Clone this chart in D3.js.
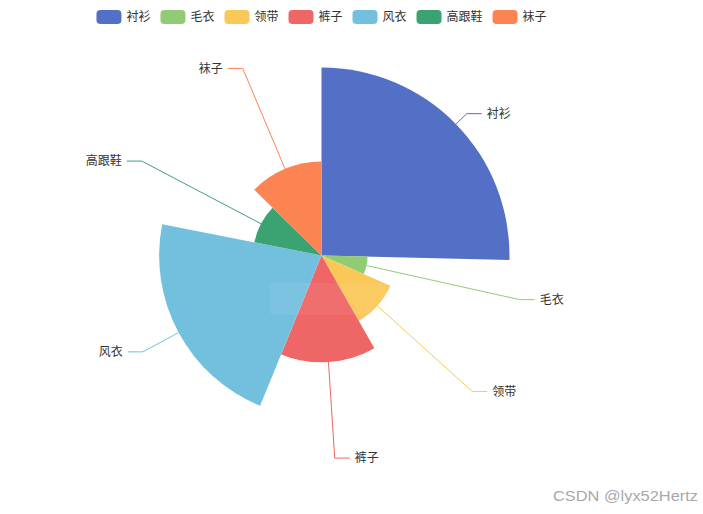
<!DOCTYPE html>
<html><head><meta charset="utf-8">
<script src="https://cdn.jsdelivr.net/npm/d3@7"></script>
<style>body{margin:0;background:#fff}svg{display:block}</style>
</head><body>
<svg id="c" width="703" height="514"></svg>
<script>
const categories = ["衬衫", "毛衣", "领带", "裤子", "风衣", "高跟鞋", "袜子"];
const values = [22, 5.4, 8.8, 12.5, 19, 8, 11];
const colors = ["#5470c6", "#91cc75", "#fac858", "#ee6666", "#73c0de", "#3ba272", "#fc8452"];

const W = 703, H = 514;
const cx = 321.5, cy = 255.5, R = 188;
const font = "'Noto Sans CJK SC', 'Noto Sans', sans-serif";
const svg = d3.select("#c");

const data = categories.map((c, i) => ({ name: c, value: values[i], color: colors[i] }));
const rScale = d3.scaleLinear().domain([0, d3.max(values)]).range([0, R]);
const pie = d3.pie().sort(null).value(d => d.value).startAngle(0).endAngle(2 * Math.PI);
const arcs = pie(data);

const g = svg.append("g").attr("transform", `translate(${cx},${cy})`);
g.selectAll("path.slice").data(arcs).enter().append("path")
  .attr("class", "slice")
  .attr("fill", d => d.data.color)
  .attr("d", d => d3.arc().innerRadius(0).outerRadius(rScale(d.data.value))(d));

// labels
const len1 = 15, len2 = 15, gap = 5;
arcs.forEach(d => {
  const mid = (d.startAngle + d.endAngle) / 2;
  const sx = Math.sin(mid), sy = -Math.cos(mid);
  const r = rScale(d.data.value);
  const p0 = [sx * r, sy * r];
  const p1 = [sx * (R + len1), sy * (R + len1)];
  const right = sx >= 0;
  const p2 = [p1[0] + (right ? len2 : -len2), p1[1]];
  g.append("polyline")
    .attr("points", [p0, p1, p2].map(p => p.join(",")).join(" "))
    .attr("fill", "none").attr("stroke", d.data.color).attr("stroke-width", 1);
  g.append("text")
    .attr("x", p2[0] + (right ? gap : -gap)).attr("y", p2[1])
    .attr("dy", "0.35em")
    .attr("text-anchor", right ? "start" : "end")
    .attr("font-family", font).attr("font-size", 12).attr("fill", "#333")
    .text(d.data.name);
});

// legend
const legend = svg.append("g");
let x = 0;
const items = [];
data.forEach(d => {
  const it = legend.append("g");
  it.append("rect").attr("x", 0).attr("y", 10).attr("width", 25).attr("height", 14)
    .attr("rx", 4).attr("fill", d.color);
  const t = it.append("text").attr("x", 30).attr("y", 17).attr("dy", "0.35em")
    .attr("font-family", font).attr("font-size", 12).attr("fill", "#333").text(d.name);
  const w = 30 + t.node().getComputedTextLength();
  items.push({ it, w });
});
const totalW = d3.sum(items, d => d.w) + 10 * (items.length - 1);
x = cx - totalW / 2;
items.forEach(d => { d.it.attr("transform", `translate(${x},0)`); x += d.w + 10; });

// faint ghost tooltip
const tip = svg.append("g").attr("opacity", 0.06);
tip.append("rect").attr("x", 270).attr("y", 283).attr("width", 116).attr("height", 32)
  .attr("rx", 4).attr("fill", "#fff");
tip.append("circle").attr("cx", 282).attr("cy", 299).attr("r", 5).attr("fill", "#fff");
tip.append("text").attr("x", 292).attr("y", 299).attr("dy", "0.35em")
  .attr("font-family", font).attr("font-size", 14).attr("fill", "#fff").text("风衣");
tip.append("text").attr("x", 376).attr("y", 299).attr("dy", "0.35em").attr("text-anchor", "end")
  .attr("font-family", font).attr("font-size", 14).attr("font-weight", "bold").attr("fill", "#fff").text("19");

// watermark
svg.append("text").attr("x", 553).attr("y", 496).attr("dy", "0.35em")
  .attr("textLength", 145).attr("lengthAdjust", "spacingAndGlyphs")
  .attr("font-family", "'Liberation Sans', Arial, sans-serif").attr("font-size", 15)
  .attr("fill", "#a8a8a8").text("CSDN @lyx52Hertz");
</script>
</body></html>
